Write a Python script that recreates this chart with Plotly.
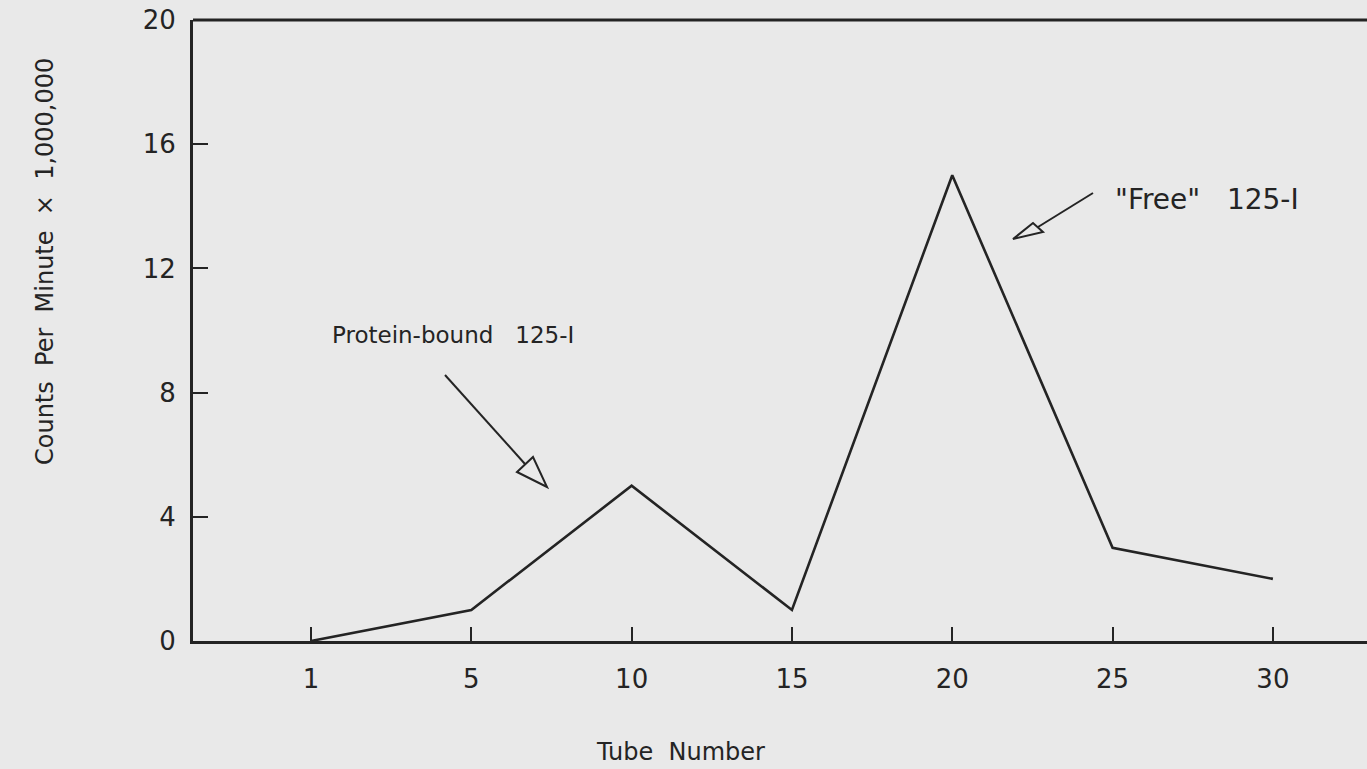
import plotly.graph_objects as go

tube_labels = ["1", "5", "10", "15", "20", "25", "30"]
counts = [0, 1, 5, 1, 15, 3, 2]
y_ticks = [0, 4, 8, 12, 16, 20]

W, H = 1367, 769
L, R, T, B = 193, 0, 20, 128
PW, PH = W - L - R, H - T - B
INK = "#242424"
BG = "#e9e9e9"
FONT = "DejaVu Sans, Liberation Sans, sans-serif"


def px(x, y):
    return (x - L) / PW, (T + PH - y) / PH


fig = go.Figure()
fig.add_trace(go.Scatter(x=tube_labels, y=counts, mode="lines",
                         line=dict(color=INK, width=2.6), hoverinfo="skip"))

shapes = []
# top border
shapes.append(dict(type="line", xref="paper", yref="paper", x0=0, x1=1, y0=1, y1=1,
                   line=dict(color=INK, width=3)))


def arrow(tail, mid, c1, tip, c2):
    tx, ty = px(*tail)
    mx, my = px(*mid)
    shapes.append(dict(type="line", xref="paper", yref="paper", x0=tx, y0=ty, x1=mx, y1=my,
                       line=dict(color=INK, width=2)))
    pts = [px(*c1), px(*tip), px(*c2)]
    path = "M {} {} L {} {} L {} {} Z".format(pts[0][0], pts[0][1], pts[1][0], pts[1][1], pts[2][0], pts[2][1])
    shapes.append(dict(type="path", xref="paper", yref="paper", path=path,
                       line=dict(color=INK, width=2), fillcolor="rgba(0,0,0,0)"))


arrow((445, 375), (525, 464), (517, 472), (547, 487), (533, 457))
arrow((1093, 193), (1038, 227), (1033, 223), (1013, 239), (1043, 232))

annotations = [
    dict(text="Protein-bound   125-I", x=px(330, 0)[0], y=px(0, 335)[1], xref="paper", yref="paper",
         xanchor="left", yanchor="middle", showarrow=False, font=dict(size=23, color=INK, family=FONT)),
    dict(text="\"Free\"   125-I", x=px(1113, 0)[0], y=px(0, 200)[1], xref="paper", yref="paper",
         xanchor="left", yanchor="middle", showarrow=False, font=dict(size=28, color=INK, family=FONT)),
    dict(text="Tube  Number", x=px(680, 0)[0], y=px(0, 752)[1], xref="paper", yref="paper",
         xanchor="center", yanchor="middle", showarrow=False, font=dict(size=24, color=INK, family=FONT)),
    dict(text="Counts  Per  Minute  \u00d7  1,000,000", x=px(45, 0)[0], y=px(0, 262)[1],
         xref="paper", yref="paper", xanchor="center", yanchor="middle", textangle=-90,
         showarrow=False, font=dict(size=24, color=INK, family=FONT)),
]

fig.update_layout(
    width=W, height=H,
    margin=dict(l=L, r=R, t=T, b=B),
    paper_bgcolor=BG, plot_bgcolor=BG,
    showlegend=False,
    shapes=shapes, annotations=annotations,
    font=dict(family=FONT, color=INK),
    xaxis=dict(type="category", range=[-0.736, 6.587], showgrid=False, zeroline=False,
               showline=True, linecolor=INK, linewidth=3, ticks="inside", ticklen=14,
               tickwidth=2, tickcolor=INK, tickfont=dict(size=26, color=INK, family=FONT),
               ticklabelstandoff=13),
    yaxis=dict(range=[0, 20], tickvals=y_ticks, showgrid=False, zeroline=False,
               showline=True, linecolor=INK, linewidth=3, ticks="inside", ticklen=15,
               tickwidth=2, tickcolor=INK, tickfont=dict(size=26, color=INK, family=FONT),
               ticklabelstandoff=9),
)

fig.write_html(
    "out.html",
    config={"displayModeBar": False},
    post_script="document.body.style.margin='0';document.body.style.background='%s';" % BG,
)
